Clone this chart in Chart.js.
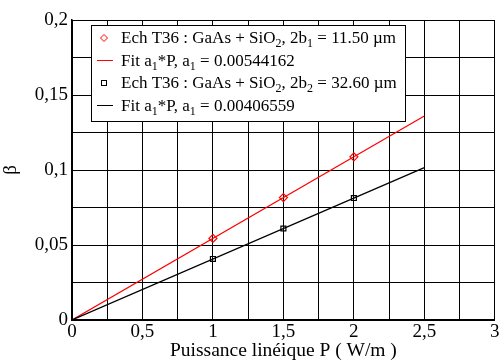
<!DOCTYPE html>
<html>
<head>
<meta charset="utf-8">
<script src="https://cdn.jsdelivr.net/npm/chart.js@4.4.0/dist/chart.umd.min.js"></script>
<style>
  html, body { margin: 0; padding: 0; background: #fff; }
  #wrap { width: 500px; height: 361px; }
</style>
</head>
<body>
<div id="wrap"><canvas id="betaChart"></canvas></div>
<script>
// measured points
const measP = [1, 1.5, 2];
const beta1 = [0.0544, 0.0816, 0.1088];
const beta2 = [0.0407, 0.0610, 0.0813];
// linear fits a1*P
const fitP = [0, 2.5];
const fit1 = [0, 0.136];
const fit2 = [0, 0.1016];

const xTickLabels = ["0", "0,5", "1", "1,5", "2", "2,5", "3"];
const yTickLabels = ["0", "0,05", "0,1", "0,15", "0,2"];

const serif = "'Liberation Serif', 'DejaVu Serif', serif";

function pts(xs, ys) {
  return xs.map((x, i) => ({ x: x, y: ys[i] }));
}

// legend rows, each made of [text, isSubscript] parts
const legendRows = [
  { kind: "rectRot", color: "#ff0000", parts: [["Ech T36 : GaAs + SiO", 0], ["2", 1], [", 2b", 0], ["1", 1], [" = 11.50 \u00b5m", 0]] },
  { kind: "line", color: "#ff0000", parts: [["Fit a", 0], ["1", 1], ["*P, a", 0], ["1", 1], [" = 0.00544162", 0]] },
  { kind: "rect", color: "#000000", parts: [["Ech T36 : GaAs + SiO", 0], ["2", 1], [", 2b", 0], ["2", 1], [" = 32.60 \u00b5m", 0]] },
  { kind: "line", color: "#000000", parts: [["Fit a", 0], ["1", 1], ["*P, a", 0], ["1", 1], [" = 0.00406559", 0]] }
];

const legendBox = {
  id: "legendBox",
  afterDraw(chart) {
    const ctx = chart.ctx;
    const x0 = 91, y0 = 25, w = 314, h = 96;
    ctx.save();
    ctx.fillStyle = "#fff";
    ctx.fillRect(x0, y0, w, h);
    ctx.strokeStyle = "#000";
    ctx.lineWidth = 1;
    ctx.strokeRect(x0 + 0.5, y0 + 0.5, w, h);
    ctx.textBaseline = "alphabetic";
    legendRows.forEach((row, i) => {
      const cy = y0 + 13 + i * 22.5;
      ctx.strokeStyle = row.color;
      ctx.lineWidth = 1;
      if (row.kind === "line") {
        ctx.beginPath();
        ctx.moveTo(97, cy);
        ctx.lineTo(113, cy);
        ctx.stroke();
      } else if (row.kind === "rect") {
        ctx.strokeRect(101.5, cy - 2.5, 5, 5);
      } else {
        ctx.beginPath();
        ctx.moveTo(104, cy - 3.5);
        ctx.lineTo(107.5, cy);
        ctx.lineTo(104, cy + 3.5);
        ctx.lineTo(100.5, cy);
        ctx.closePath();
        ctx.stroke();
      }
      let tx = 121;
      const base = cy + 5;
      ctx.fillStyle = "#000";
      row.parts.forEach(p => {
        if (p[1]) {
          ctx.font = "12px " + serif;
          ctx.fillText(p[0], tx, base + 4);
        } else {
          ctx.font = "17px " + serif;
          ctx.fillText(p[0], tx, base);
        }
        tx += ctx.measureText(p[0]).width;
      });
    });
    ctx.restore();
  }
};

const betaChart = new Chart(document.getElementById("betaChart"), {
  type: "scatter",
  data: {
    datasets: [
      {
        label: "fit2",
        type: "line",
        data: pts(fitP, fit2),
        borderColor: "#000",
        borderWidth: 1.2,
        pointRadius: 0
      },
      {
        label: "fit1",
        type: "line",
        data: pts(fitP, fit1),
        borderColor: "#ff0000",
        borderWidth: 1.2,
        pointRadius: 0
      },
      {
        label: "ech2",
        data: pts(measP, beta2),
        pointStyle: "rect",
        pointRadius: 3.5,
        borderColor: "#000",
        backgroundColor: "rgba(0,0,0,0)",
        borderWidth: 1.2
      },
      {
        label: "ech1",
        data: pts(measP, beta1),
        pointStyle: "rectRot",
        pointRadius: 4,
        borderColor: "#ff0000",
        backgroundColor: "rgba(0,0,0,0)",
        borderWidth: 1.2
      }
    ]
  },
  options: {
    responsive: true,
    maintainAspectRatio: false,
    animation: false,
    layout: { padding: { top: 20, right: 5, left: 0, bottom: 0 } },
    plugins: {
      legend: { display: false },
      tooltip: { enabled: false }
    },
    scales: {
      x: {
        type: "linear",
        min: 0,
        max: 3,
        border: { color: "#000", width: 1.5 },
        grid: { color: "#000", lineWidth: 1, tickLength: 0 },
        ticks: {
          stepSize: 0.25,
          autoSkip: false,
          maxRotation: 0,
          color: "#000",
          padding: 3,
          font: { family: serif, size: 19, lineHeight: 1 },
          callback: (v) => {
            const i = Math.round(v / 0.5);
            return Math.abs(v - i * 0.5) < 1e-6 ? xTickLabels[i] : "";
          }
        },
        title: {
          display: true,
          text: "Puissance lin\u00e9ique P ( W/m )",
          color: "#000",
          padding: 0,
          font: { family: serif, size: 19.5, lineHeight: 1.05 }
        },
        afterFit: (s) => {
          s.height = 41;
          s.paddingLeft = 0;
          s.paddingRight = 0;
        }
      },
      y: {
        min: 0,
        max: 0.2,
        border: { color: "#000", width: 1.5 },
        grid: { color: "#000", lineWidth: 1, tickLength: 0 },
        ticks: {
          stepSize: 0.025,
          autoSkip: false,
          color: "#000",
          padding: 4,
          font: { family: serif, size: 19 },
          callback: (v) => {
            const i = Math.round(v / 0.05);
            return Math.abs(v - i * 0.05) < 1e-6 ? yTickLabels[i] : "";
          }
        },
        title: {
          display: true,
          text: "\u03b2",
          color: "#000",
          padding: 0,
          font: { family: serif, size: 19 }
        },
        afterFit: (s) => {
          s.width = 72;
          s.paddingTop = 0;
          s.paddingBottom = 0;
        }
      }
    }
  },
  plugins: [legendBox]
});
</script>
</body>
</html>
